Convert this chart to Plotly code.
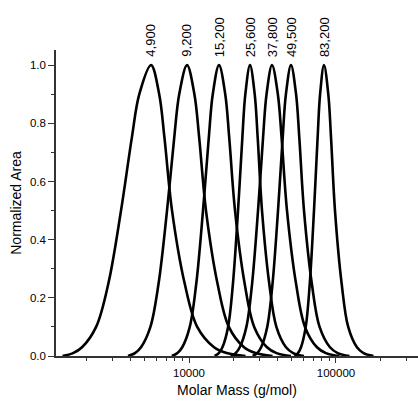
import math
import plotly.graph_objects as go

# Normalized area levels at which each curve was read (left foot -> peak -> right foot)
area_levels = [0, 0.01, 0.03, 0.1, 0.25, 0.5, 0.75, 0.9, 1.0, 0.9, 0.75, 0.5, 0.25, 0.1, 0.03, 0.01, 0]

# Molar mass (g/mol) read at those levels for each sample
mm_4900 = [1379, 1625, 1872, 2333, 2829, 3447, 4082, 4590, 5515, 6268, 6808, 7664, 9336, 11370, 14800, 18030, 24240]
mm_9200 = [3845, 4290, 4714, 5462, 6210, 7085, 7930, 8576, 9692, 10880, 11730, 13050, 15610, 18660, 23670, 28300, 37010]
mm_15200 = [7640, 8344, 8993, 10120, 11210, 12450, 13630, 14510, 16000, 17640, 18780, 20560, 23890, 27770, 33920, 39430, 49390]
mm_25600 = [14940, 15950, 16880, 18440, 19910, 21550, 23060, 24170, 26000, 27980, 29330, 31380, 35130, 39310, 45690, 51150, 60560]
mm_37800 = [19220, 20760, 22160, 24570, 26880, 29480, 31890, 33690, 36700, 40220, 42650, 46410, 53430, 61520, 74230, 85480, 105600]
mm_49500 = [27110, 29120, 30950, 34050, 37020, 40320, 43380, 45640, 49410, 53500, 56300, 60580, 68440, 77340, 91000, 102800, 123500]
mm_83200 = [52210, 55150, 57810, 62230, 66330, 70850, 74970, 77960, 82860, 88640, 92540, 98450, 109200, 121100, 138900, 154100, 179900]

series = [mm_4900, mm_9200, mm_15200, mm_25600, mm_37800, mm_49500, mm_83200]
peak_labels = ["4,900", "9,200", "15,200", "25,600", "37,800", "49,500", "83,200"]

x_tick_vals = [10000, 100000]
x_tick_text = ["10000", "100000"]
x_minor_vals = [2000, 3000, 4000, 5000, 6000, 7000, 8000, 9000,
                20000, 30000, 40000, 50000, 60000, 70000, 80000, 90000,
                200000, 300000]

FONT = "Liberation Sans, Arial, sans-serif"

fig = go.Figure()
for mm in series:
    fig.add_trace(go.Scatter(
        x=mm, y=area_levels, mode="lines",
        line=dict(color="black", width=2.6, shape="spline", smoothing=1.0),
        showlegend=False, hoverinfo="skip",
    ))

for mm, lab in zip(series, peak_labels):
    peak = mm[area_levels.index(1.0)]
    fig.add_annotation(
        x=math.log10(peak), y=1.0, xref="x", yref="y",
        text=lab, textangle=-90, showarrow=False,
        xanchor="center", yanchor="bottom", yshift=6,
        font=dict(family=FONT, size=13, color="black"),
    )

axis_color = "#333333"
fig.update_layout(
    width=418, height=405,
    margin=dict(l=56, r=0, t=50, b=49),
    paper_bgcolor="white", plot_bgcolor="white",
    font=dict(family=FONT, size=11.5, color="black"),
    xaxis=dict(
        type="log", range=[3.095, 5.558],
        tickmode="array", tickvals=x_tick_vals, ticktext=x_tick_text,
        ticks="outside", ticklen=5, tickwidth=1.3, tickcolor=axis_color,
        showline=True, linecolor=axis_color, linewidth=1.5,
        showgrid=False, zeroline=False,
        minor=dict(tickmode="array", tickvals=x_minor_vals, ticks="outside",
                   ticklen=3, tickwidth=1.1, tickcolor=axis_color, showgrid=False),
        title=dict(text="Molar Mass (g/mol)", font=dict(size=14), standoff=8),
        tickfont=dict(size=11.5),
    ),
    yaxis=dict(
        range=[0, 1.052],
        tickmode="linear", tick0=0, dtick=0.2, tickformat=".1f",
        ticks="outside", ticklen=6, tickwidth=1.3, tickcolor=axis_color,
        showline=True, linecolor=axis_color, linewidth=1.5,
        showgrid=False, zeroline=False,
        minor=dict(dtick=0.1, ticks="outside", ticklen=3, tickwidth=1.1,
                   tickcolor=axis_color, showgrid=False),
        title=dict(text="Normalized Area", font=dict(size=14), standoff=5),
        tickfont=dict(size=11.5),
    ),
)

fig.write_html("out.html", config={"displayModeBar": False},
               post_script="document.body.style.margin='0';")
